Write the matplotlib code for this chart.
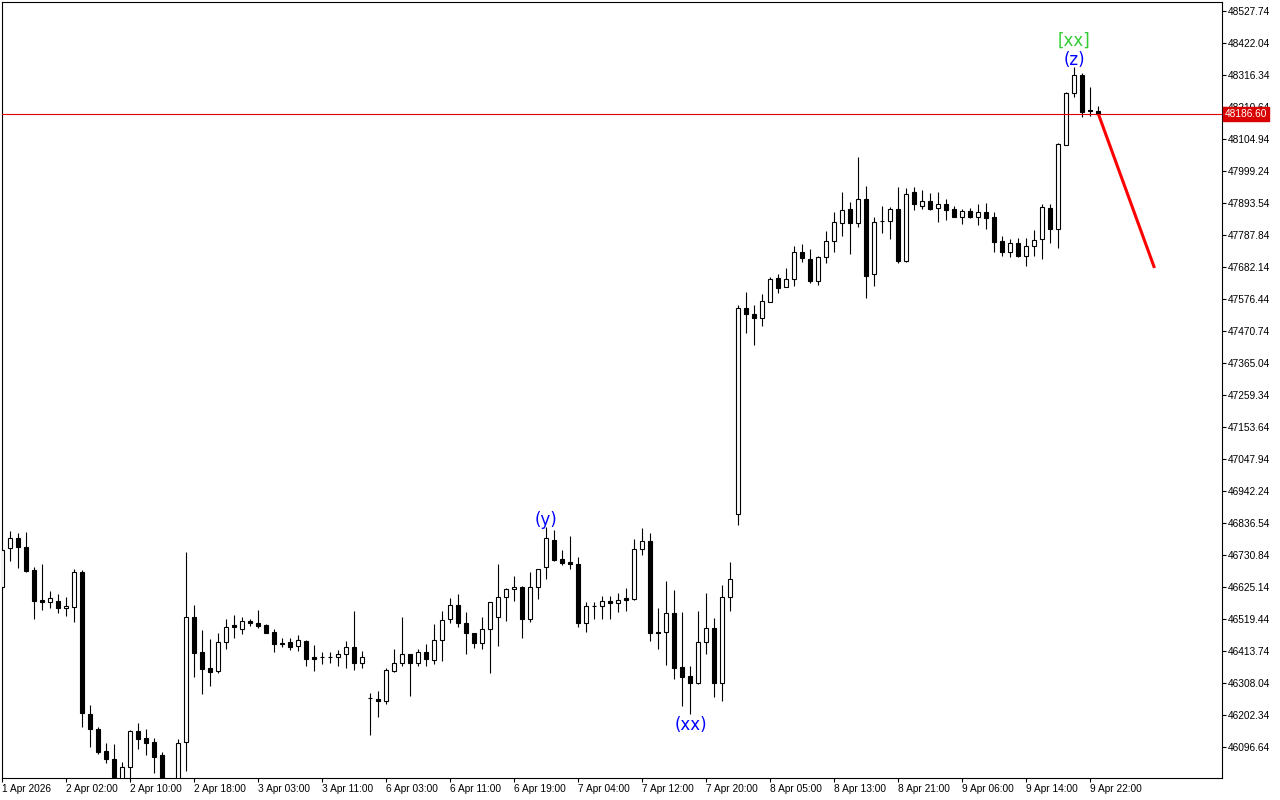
import matplotlib
matplotlib.use('Agg')
import matplotlib.pyplot as plt
import matplotlib.transforms as mtransforms
import numpy as np

plt.rcParams['font.family'] = ['Liberation Sans', 'DejaVu Sans']

# hourly candles
opens = [46625, 46754, 46787, 46757, 46681, 46582, 46576, 46579, 46556, 46559,
         46675, 46206, 46156, 46083, 46057, 45988, 46031, 46149, 46126, 46113,
         46070, 45960, 45978, 46113, 46526, 46410, 46357, 46347, 46443, 46500,
         46486, 46513, 46506, 46500, 46477, 46440, 46443, 46430, 46447, 46394,
         46394, 46393, 46394, 46404, 46427, 46374, 46259, 46255, 46249, 46347,
         46374, 46404, 46374, 46410, 46384, 46450, 46519, 46566, 46506, 46473,
         46440, 46486, 46526, 46592, 46619, 46625, 46519, 46625, 46691, 46780,
         46718, 46708, 46701, 46506, 46562, 46562, 46579, 46572, 46589, 46586,
         46750, 46777, 46477, 46477, 46539, 46361, 46331, 46308, 46443, 46490,
         46308, 46592, 46866, 47547, 47527, 47514, 47567, 47646, 47616, 47643,
         47732, 47709, 47636, 47715, 47768, 47827, 47874, 47827, 47907, 47659,
         47834, 47834, 47874, 47702, 47930, 47884, 47900, 47877, 47890, 47874,
         47847, 47867, 47847, 47864, 47847, 47768, 47732, 47762, 47718, 47752,
         47775, 47877, 47808, 48085, 48257, 48316, 48201, 48197]
highs = [46754, 46810, 46803, 46807, 46691, 46701, 46612, 46602, 46592, 46684,
         46681, 46235, 46163, 46110, 46107, 46047, 46153, 46176, 46156, 46126,
         46080, 45985, 46123, 46740, 46566, 46483, 46453, 46473, 46519, 46533,
         46526, 46519, 46549, 46503, 46486, 46457, 46457, 46467, 46450, 46434,
         46410, 46410, 46417, 46447, 46546, 46414, 46275, 46282, 46357, 46420,
         46526, 46404, 46420, 46437, 46503, 46546, 46589, 46602, 46543, 46473,
         46526, 46576, 46701, 46622, 46661, 46628, 46675, 46684, 46823, 46813,
         46747, 46793, 46724, 46576, 46576, 46595, 46595, 46605, 46622, 46783,
         46820, 46803, 46556, 46645, 46615, 46543, 46364, 46546, 46605, 46523,
         46632, 46708, 47556, 47600, 47556, 47593, 47649, 47659, 47679, 47752,
         47758, 47742, 47718, 47801, 47864, 47930, 47897, 48045, 47950, 47847,
         47884, 47880, 47946, 47943, 47946, 47937, 47927, 47930, 47907, 47884,
         47874, 47877, 47890, 47894, 47864, 47785, 47775, 47778, 47778, 47804,
         47890, 47890, 48092, 48260, 48343, 48323, 48277, 48214]
lows = [46615, 46711, 46688, 46675, 46519, 46549, 46556, 46539, 46529, 46510,
        46163, 46097, 46074, 46044, 45981, 45971, 45994, 46090, 46070, 46011,
        45938, 45920, 45950, 46017, 46328, 46272, 46298, 46341, 46420, 46457,
        46470, 46496, 46490, 46473, 46410, 46427, 46417, 46414, 46364, 46347,
        46371, 46374, 46364, 46357, 46351, 46357, 46136, 46196, 46239, 46344,
        46364, 46265, 46364, 46364, 46371, 46381, 46506, 46493, 46404, 46424,
        46420, 46341, 46430, 46513, 46579, 46457, 46510, 46586, 46652, 46711,
        46698, 46684, 46493, 46477, 46519, 46519, 46519, 46543, 46546, 46582,
        46731, 46447, 46420, 46367, 46321, 46232, 46206, 46305, 46404, 46262,
        46249, 46546, 46830, 47464, 47424, 47487, 47567, 47596, 47616, 47619,
        47699, 47629, 47623, 47695, 47732, 47785, 47725, 47814, 47580, 47619,
        47794, 47775, 47695, 47699, 47870, 47874, 47870, 47831, 47837, 47847,
        47824, 47844, 47821, 47808, 47732, 47718, 47715, 47715, 47685, 47718,
        47709, 47762, 47745, 48085, 48244, 48178, 48181, 48184]
closes = [46747, 46787, 46757, 46678, 46579, 46576, 46589, 46556, 46562, 46675,
          46209, 46156, 46080, 46057, 45998, 46031, 46149, 46123, 46110, 46064,
          45971, 45975, 46110, 46526, 46407, 46354, 46344, 46443, 46493, 46493,
          46513, 46506, 46496, 46473, 46437, 46437, 46427, 46450, 46387, 46387,
          46393, 46394, 46404, 46427, 46374, 46394, 46258, 46249, 46351, 46374,
          46404, 46374, 46410, 46387, 46450, 46516, 46566, 46506, 46473, 46440,
          46486, 46576, 46592, 46619, 46625, 46519, 46625, 46684, 46787, 46714,
          46704, 46701, 46506, 46562, 46563, 46579, 46572, 46582, 46582, 46750,
          46777, 46473, 46473, 46539, 46357, 46328, 46308, 46443, 46490, 46308,
          46592, 46652, 47547, 47527, 47514, 47570, 47643, 47613, 47643, 47732,
          47712, 47636, 47715, 47768, 47831, 47870, 47827, 47907, 47652, 47831,
          47833, 47874, 47702, 47923, 47890, 47900, 47874, 47890, 47870, 47847,
          47867, 47847, 47864, 47844, 47765, 47732, 47762, 47718, 47752, 47771,
          47880, 47808, 48088, 48257, 48316, 48194, 48197, 48186.6]

last_price = 48186.60
forecast_x = [137, 144]
forecast_y = [48186.6, 47679]

# wave labels: (text, bar, above/below, colour)
wave_labels = [('(y)', 68, 'above', 'blue'),
               ('(xx)', 86, 'below', 'blue'),
               ('(z)', 134, 'above', 'blue')]

xtick_pos = [0, 8, 16, 24, 32, 40, 48, 56, 64, 72, 80, 88, 96, 104, 112, 120, 128, 136]
xtick_labels = ['1 Apr 2026', '2 Apr 02:00', '2 Apr 10:00', '2 Apr 18:00', '3 Apr 03:00',
                '3 Apr 11:00', '6 Apr 03:00', '6 Apr 11:00', '6 Apr 19:00', '7 Apr 04:00',
                '7 Apr 12:00', '7 Apr 20:00', '8 Apr 05:00', '8 Apr 13:00', '8 Apr 21:00',
                '9 Apr 06:00', '9 Apr 14:00', '9 Apr 22:00']
ytick_vals = [46096.64, 46202.34, 46308.04, 46413.74, 46519.44, 46625.14, 46730.84,
              46836.54, 46942.24, 47047.94, 47153.64, 47259.34, 47365.04, 47470.74,
              47576.44, 47682.14, 47787.84, 47893.54, 47999.24, 48104.94, 48210.64,
              48316.34, 48422.04, 48527.74]

o = np.array(opens, dtype=float)
h = np.array(highs, dtype=float)
l = np.array(lows, dtype=float)
c = np.array(closes, dtype=float)
x = np.arange(len(o))
up = c >= o

fig = plt.figure(figsize=(12.8, 8), dpi=100)
ax = fig.add_axes([2/1280, 22/800, 1220/1280, 776/800])

ax.vlines(x, l, h, color='black', linewidth=0.8, zorder=2)
ax.bar(x, np.abs(c - o), bottom=np.minimum(o, c), width=0.5,
       color=np.where(up, 'white', 'black'), edgecolor='black', linewidth=0.8, zorder=3)

ax.axhline(last_price, color='#e00000', linewidth=0.8, zorder=4)
ax.plot(forecast_x, forecast_y, color='red', linewidth=2.2, solid_capstyle='butt', zorder=5)

for txt, i, pos, col in wave_labels:
    if pos == 'above':
        ax.annotate(txt, xy=(i, h[i]), xytext=(0, -1.5), textcoords='offset points',
                    ha='center', va='bottom', color=col, fontsize=12, family='DejaVu Sans')
    else:
        ax.annotate(txt, xy=(i, l[i]), xytext=(0, -1.5), textcoords='offset points',
                    ha='center', va='top', color=col, fontsize=12, family='DejaVu Sans')
ax.annotate('[xx]', xy=(134, h[134]), xytext=(0, 12.5), textcoords='offset points',
            ha='center', va='bottom', color='#32cd32', fontsize=12, family='DejaVu Sans')

ax.set_xlim(-0.0625, 152.44)
ax.set_ylim(45994.2, 48557.5)

ax.yaxis.tick_right()
ax.set_yticks(ytick_vals)
ax.set_yticklabels(['%.2f' % v for v in ytick_vals])
ax.set_xticks(xtick_pos)
ax.set_xticklabels(xtick_labels)
for lab in ax.get_xticklabels():
    lab.set_ha('left')
ax.tick_params(axis='both', direction='out', length=3, width=0.8, pad=1.5, labelsize=7.3, colors='black')
for s in ax.spines.values():
    s.set_linewidth(0.8)
    s.set_color('black')

trans = mtransforms.blended_transform_factory(ax.transAxes, ax.transData)
ax.text(1.0 + 3/1220, last_price, '%.2f' % last_price, transform=trans, color='white',
        fontsize=7.3, ha='left', va='center', clip_on=False, zorder=10,
        bbox=dict(boxstyle='square,pad=0.2', fc='#d80000', ec='#d80000'))

fig.savefig('out.png', dpi=100)
